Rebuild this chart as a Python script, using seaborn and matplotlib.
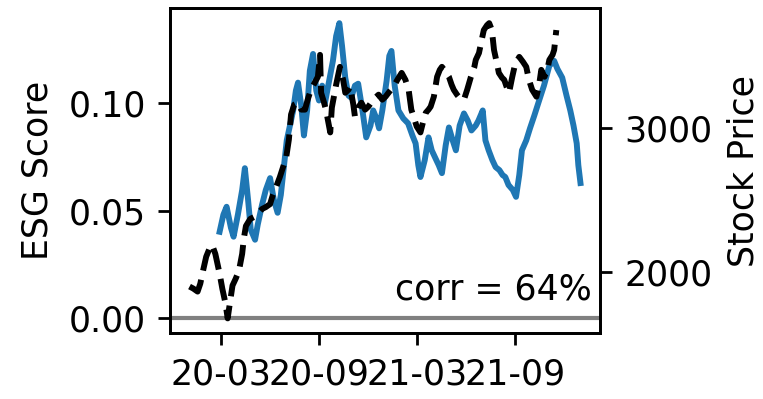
import pandas as pd
import matplotlib
matplotlib.use("Agg")
import matplotlib.pyplot as plt
import matplotlib.dates as mdates
import seaborn as sns

# ESG score (left axis)
esg_dates = ['2020-02-28', '2020-03-06', '2020-03-12', '2020-03-20', '2020-03-25', '2020-04-02',
             '2020-04-10', '2020-04-15', '2020-04-21', '2020-04-26', '2020-05-04', '2020-05-09',
             '2020-05-17', '2020-05-24', '2020-06-01', '2020-06-08', '2020-06-15', '2020-06-21',
             '2020-06-27', '2020-07-02', '2020-07-08', '2020-07-14', '2020-07-19', '2020-07-23',
             '2020-07-29', '2020-08-03', '2020-08-09', '2020-08-14', '2020-08-20', '2020-08-26',
             '2020-08-31', '2020-09-06', '2020-09-11', '2020-09-19', '2020-09-26', '2020-10-02',
             '2020-10-08', '2020-10-13', '2020-10-19', '2020-10-25', '2020-10-30', '2020-11-06',
             '2020-11-12', '2020-11-20', '2020-11-27', '2020-12-05', '2020-12-10', '2020-12-16',
             '2020-12-21', '2020-12-27', '2021-01-04', '2021-01-09', '2021-01-13', '2021-01-19',
             '2021-01-26', '2021-02-04', '2021-02-13', '2021-02-21', '2021-02-27', '2021-03-04',
             '2021-03-08', '2021-03-16', '2021-03-23', '2021-03-29', '2021-04-04', '2021-04-11',
             '2021-04-17', '2021-04-24', '2021-04-30', '2021-05-07', '2021-05-13', '2021-05-20',
             '2021-05-28', '2021-06-04', '2021-06-11', '2021-06-19', '2021-06-24', '2021-07-02',
             '2021-07-07', '2021-07-13', '2021-07-20', '2021-07-26', '2021-08-02', '2021-08-08',
             '2021-08-13', '2021-08-19', '2021-08-27', '2021-09-02', '2021-09-08', '2021-09-13',
             '2021-09-21', '2021-09-28', '2021-10-06', '2021-10-15', '2021-10-24', '2021-11-03',
             '2021-11-12', '2021-11-18', '2021-11-27', '2021-12-05', '2021-12-12', '2021-12-18',
             '2021-12-24', '2021-12-27', '2021-12-31']
esg_score = [0.0402, 0.0481, 0.0518, 0.0421, 0.0379, 0.0481,
             0.0596, 0.0697, 0.0550, 0.0412, 0.0365, 0.0435,
             0.0527, 0.0596, 0.0651, 0.0550, 0.0490, 0.0573,
             0.0711, 0.0826, 0.0895, 0.0965, 0.1057, 0.1094,
             0.0988, 0.0849, 0.0965, 0.1149, 0.1227, 0.1057,
             0.1011, 0.1080, 0.0997, 0.1103, 0.1195, 0.1310,
             0.1370, 0.1264, 0.1117, 0.1034, 0.1024, 0.1080,
             0.1089, 0.0965, 0.0840, 0.0895, 0.0965, 0.0928,
             0.0882, 0.0965, 0.1103, 0.1218, 0.1241, 0.1080,
             0.0965, 0.0928, 0.0905, 0.0849, 0.0812, 0.0711,
             0.0656, 0.0734, 0.0840, 0.0780, 0.0748, 0.0711,
             0.0674, 0.0803, 0.0886, 0.0826, 0.0780, 0.0895,
             0.0951, 0.0918, 0.0872, 0.0895, 0.0918, 0.0965,
             0.0826, 0.0780, 0.0734, 0.0702, 0.0688, 0.0665,
             0.0656, 0.0619, 0.0596, 0.0564, 0.0665, 0.0780,
             0.0826, 0.0882, 0.0941, 0.1011, 0.1080, 0.1172,
             0.1195, 0.1158, 0.1117, 0.1034, 0.0965, 0.0895,
             0.0812, 0.0711, 0.0628]

# stock price (right axis)
price_dates = ['2020-01-03', '2020-01-10', '2020-01-18', '2020-01-23', '2020-01-29', '2020-02-03',
               '2020-02-09', '2020-02-14', '2020-02-20', '2020-02-28', '2020-03-04', '2020-03-10',
               '2020-03-14', '2020-03-18', '2020-03-23', '2020-03-29', '2020-04-04', '2020-04-10',
               '2020-04-13', '2020-04-17', '2020-04-25', '2020-05-02', '2020-05-09', '2020-05-17',
               '2020-05-24', '2020-06-01', '2020-06-06', '2020-06-12', '2020-06-19', '2020-06-25',
               '2020-07-01', '2020-07-06', '2020-07-10', '2020-07-16', '2020-07-23', '2020-07-29',
               '2020-08-05', '2020-08-10', '2020-08-16', '2020-08-24', '2020-08-29', '2020-09-02',
               '2020-09-04', '2020-09-09', '2020-09-13', '2020-09-21', '2020-09-24', '2020-10-02',
               '2020-10-09', '2020-10-15', '2020-10-19', '2020-10-25', '2020-10-28', '2020-11-03',
               '2020-11-06', '2020-11-12', '2020-11-18', '2020-11-25', '2020-12-01', '2020-12-10',
               '2020-12-20', '2020-12-27', '2021-01-02', '2021-01-09', '2021-01-17', '2021-01-24',
               '2021-02-01', '2021-02-08', '2021-02-14', '2021-02-19', '2021-02-25', '2021-03-01',
               '2021-03-08', '2021-03-14', '2021-03-18', '2021-03-23', '2021-03-27', '2021-04-02',
               '2021-04-08', '2021-04-13', '2021-04-17', '2021-04-24', '2021-04-30', '2021-05-05',
               '2021-05-09', '2021-05-15', '2021-05-18', '2021-05-24', '2021-05-28', '2021-06-03',
               '2021-06-10', '2021-06-16', '2021-06-19', '2021-06-25', '2021-06-30', '2021-07-04',
               '2021-07-10', '2021-07-14', '2021-07-19', '2021-07-23', '2021-07-29', '2021-08-01',
               '2021-08-07', '2021-08-11', '2021-08-16', '2021-08-20', '2021-08-26', '2021-08-31',
               '2021-09-08', '2021-09-15', '2021-09-21', '2021-09-26', '2021-10-02', '2021-10-10',
               '2021-10-15', '2021-10-19', '2021-10-25', '2021-10-31', '2021-11-03', '2021-11-09',
               '2021-11-12', '2021-11-16']
stock_price = [1899, 1885, 1864, 1919, 2023, 2106,
               2161, 2188, 2126, 1988, 1885, 1781,
               1678, 1781, 1906, 1954, 2009, 2126,
               2230, 2319, 2368, 2381, 2402, 2437,
               2450, 2471, 2533, 2588, 2657, 2726,
               2795, 2919, 3092, 3161, 3174, 3126,
               3126, 3195, 3264, 3319, 3354, 3506,
               3243, 3181, 3126, 2968, 3140, 3299,
               3423, 3333, 3243, 3264, 3285, 3161,
               3078, 3140, 3174, 3126, 3147, 3195,
               3230, 3195, 3216, 3250, 3285, 3333,
               3381, 3333, 3264, 3126, 3057, 3009,
               2968, 3057, 3105, 3126, 3147, 3216,
               3354, 3402, 3423, 3388, 3354, 3299,
               3264, 3230, 3216, 3195, 3195, 3264,
               3354, 3416, 3471, 3519, 3609, 3678,
               3712, 3726, 3678, 3540, 3437, 3381,
               3347, 3333, 3278, 3243, 3354, 3437,
               3492, 3457, 3423, 3333, 3264, 3216,
               3299, 3402, 3354, 3416, 3471, 3506,
               3540, 3678]

corr_text = 'corr = 64%'

esg = pd.DataFrame({'date': pd.to_datetime(esg_dates), 'score': esg_score})
stock = pd.DataFrame({'date': pd.to_datetime(price_dates), 'price': stock_price})

fig, ax = plt.subplots(figsize=(3.052, 1.596), dpi=250)
fig.subplots_adjust(left=0.2228, right=0.7864, top=0.979, bottom=0.165)

sns.lineplot(data=esg, x='date', y='score', ax=ax, color='C0', lw=1.7)
ax.axhline(0, color='gray', lw=1.2)
ax.set_ylabel('ESG Score')
ax.set_xlabel('')

ax2 = ax.twinx()
sns.lineplot(data=stock, x='date', y='price', ax=ax2, color='k', ls='--', lw=1.7)
ax2.set_ylabel('Stock Price')
ax2.set_xlabel('')

ax.xaxis.set_major_locator(mdates.MonthLocator(bymonth=[3, 9]))
ax.xaxis.set_major_formatter(mdates.DateFormatter('%y-%m'))

ax.text(0.98, 0.105, corr_text, transform=ax.transAxes, ha='right', va='baseline')

plt.savefig('out.png', dpi=250)
